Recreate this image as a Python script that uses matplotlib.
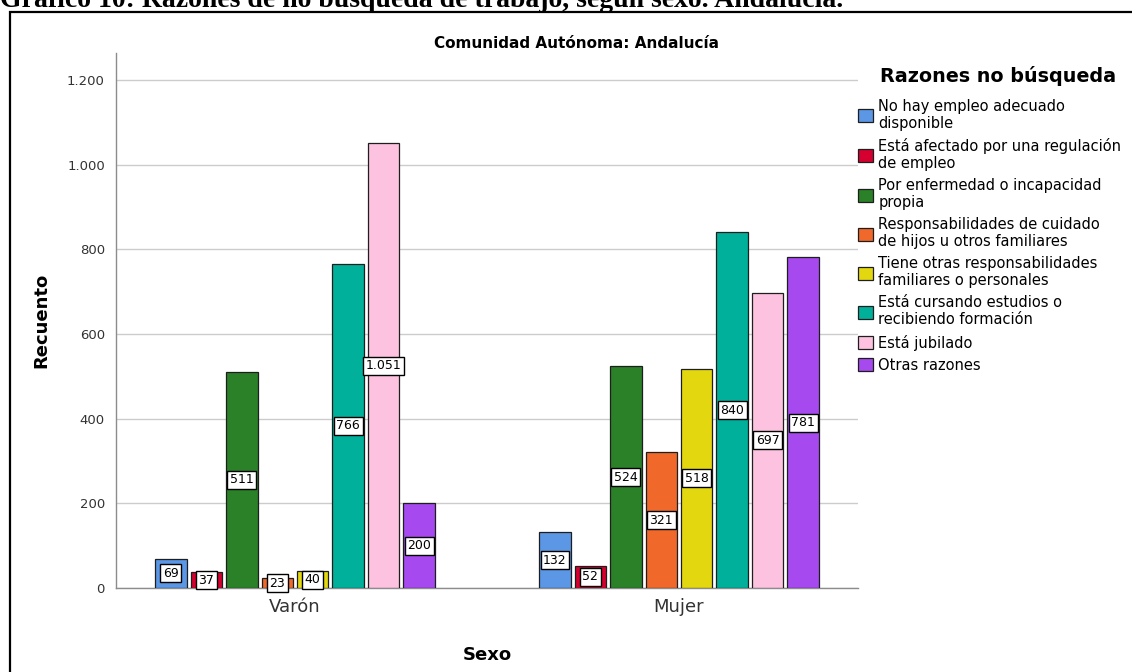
import numpy as np
import matplotlib
matplotlib.use("Agg")
import matplotlib.pyplot as plt
from matplotlib import font_manager
from matplotlib.patches import Rectangle
from matplotlib.ticker import FuncFormatter

# ---- data

sexo = ["Varón", "Mujer"]

razones = [
    "No hay empleo adecuado\ndisponible",
    "Está afectado por una regulación\nde empleo",
    "Por enfermedad o incapacidad\npropia",
    "Responsabilidades de cuidado\nde hijos u otros familiares",
    "Tiene otras responsabilidades\nfamiliares o personales",
    "Está cursando estudios o\nrecibiendo formación",
    "Está jubilado",
    "Otras razones",
]

varon = [69, 37, 511, 23, 40, 766, 1051, 200]
mujer = [132, 52, 524, 321, 518, 840, 697, 781]

colores = ["#5b97e5", "#d5002f", "#2a8128", "#f0682a",
           "#e3d810", "#00b09b", "#fcc2df", "#a64af0"]

y_ticks = [0, 200, 400, 600, 800, 1000, 1200]

titulo_doc = "Gráfico 10: Razones de no búsqueda de trabajo, según sexo. Andalucía."
titulo = "Comunidad Autónoma: Andalucía"
titulo_leyenda = "Razones no búsqueda"


def miles(v, pos=None):
    # spanish thousands separator
    return f"{int(round(v)):,}".replace(",", ".")


# ---- figure

W, H = 1132, 672
fig = plt.figure(figsize=(W / 100, H / 100), dpi=100)

# narrow font for the chart title, if present
nombres = {f.name for f in font_manager.fontManager.ttflist}
if "Liberation Sans Narrow" in nombres:
    fam_titulo, tam_titulo = "Liberation Sans Narrow", 15
else:
    fam_titulo, tam_titulo = "DejaVu Sans", 11

# document caption, cut off at the top
fig.text(0.0, 1 - 7 / H, titulo_doc, fontsize=20, fontweight="bold",
         family=["Liberation Serif", "DejaVu Serif"], va="baseline",
         ha="left", color="black")

# frame around the chart
fig.patches.append(Rectangle((9.5 / W, -0.2), 1.5, 1.2 - 11.5 / H,
                             transform=fig.transFigure, fill=False,
                             edgecolor="black", linewidth=1.6))

ax = fig.add_axes([116 / W, 1 - 588 / H, (858 - 116) / W, (588 - 53) / H])

x = np.arange(len(sexo))
paso = 0.0924
ancho = 0.082

for i, (lab, col) in enumerate(zip(razones, colores)):
    vals = [varon[i], mujer[i]]
    barras = ax.bar(x + (i - 3.5) * paso, vals, ancho, color=col,
                    edgecolor="#1e1e1e", linewidth=0.9, label=lab, zorder=3)
    ax.bar_label(barras, labels=[miles(v) for v in vals], label_type="center",
                 fontsize=9, color="black", zorder=5,
                 bbox=dict(boxstyle="square,pad=0.2", fc="white",
                           ec="black", lw=1.0))

ax.set_xlim(-179 / 384, 1 + 179 / 384)
ax.set_ylim(0, 1264)
ax.set_xticks(x)
ax.set_xticklabels(sexo, fontsize=13, color="#333333")
ax.set_yticks(y_ticks)
ax.yaxis.set_major_formatter(FuncFormatter(miles))
ax.tick_params(axis="y", length=0, pad=8, labelsize=9.5, labelcolor="#333333")
ax.tick_params(axis="x", length=0, pad=7)

ax.grid(axis="y", color="#cccccc", linewidth=1.0, zorder=0)
ax.set_axisbelow(True)
for s in ["top", "right"]:
    ax.spines[s].set_visible(False)
for s in ["left", "bottom"]:
    ax.spines[s].set_color("#8c8c8c")
    ax.spines[s].set_linewidth(1.0)

ax.set_ylabel("Recuento", fontsize=13, fontweight="bold", labelpad=12)
ax.set_xlabel("Sexo", fontsize=13, fontweight="bold", labelpad=22)

fig.text(576 / W, 1 - 44 / H, titulo, family=fam_titulo, fontsize=tam_titulo,
         fontweight="bold", ha="center", va="center")

# legend
fig.text(880 / W, 1 - 82 / H, titulo_leyenda, fontsize=13.8,
         fontweight="bold", ha="left", va="baseline")
leg = ax.legend(loc="upper left", bbox_to_anchor=(858 / W, 1 - 99 / H),
                bbox_transform=fig.transFigure, frameon=False, fontsize=10.5,
                handlelength=1.0, handleheight=1.0, handletextpad=0.4,
                labelspacing=0.5, borderpad=0, borderaxespad=0)
for t in leg.get_texts():
    t.set_linespacing(1.15)

fig.savefig("out.png", dpi=100)
